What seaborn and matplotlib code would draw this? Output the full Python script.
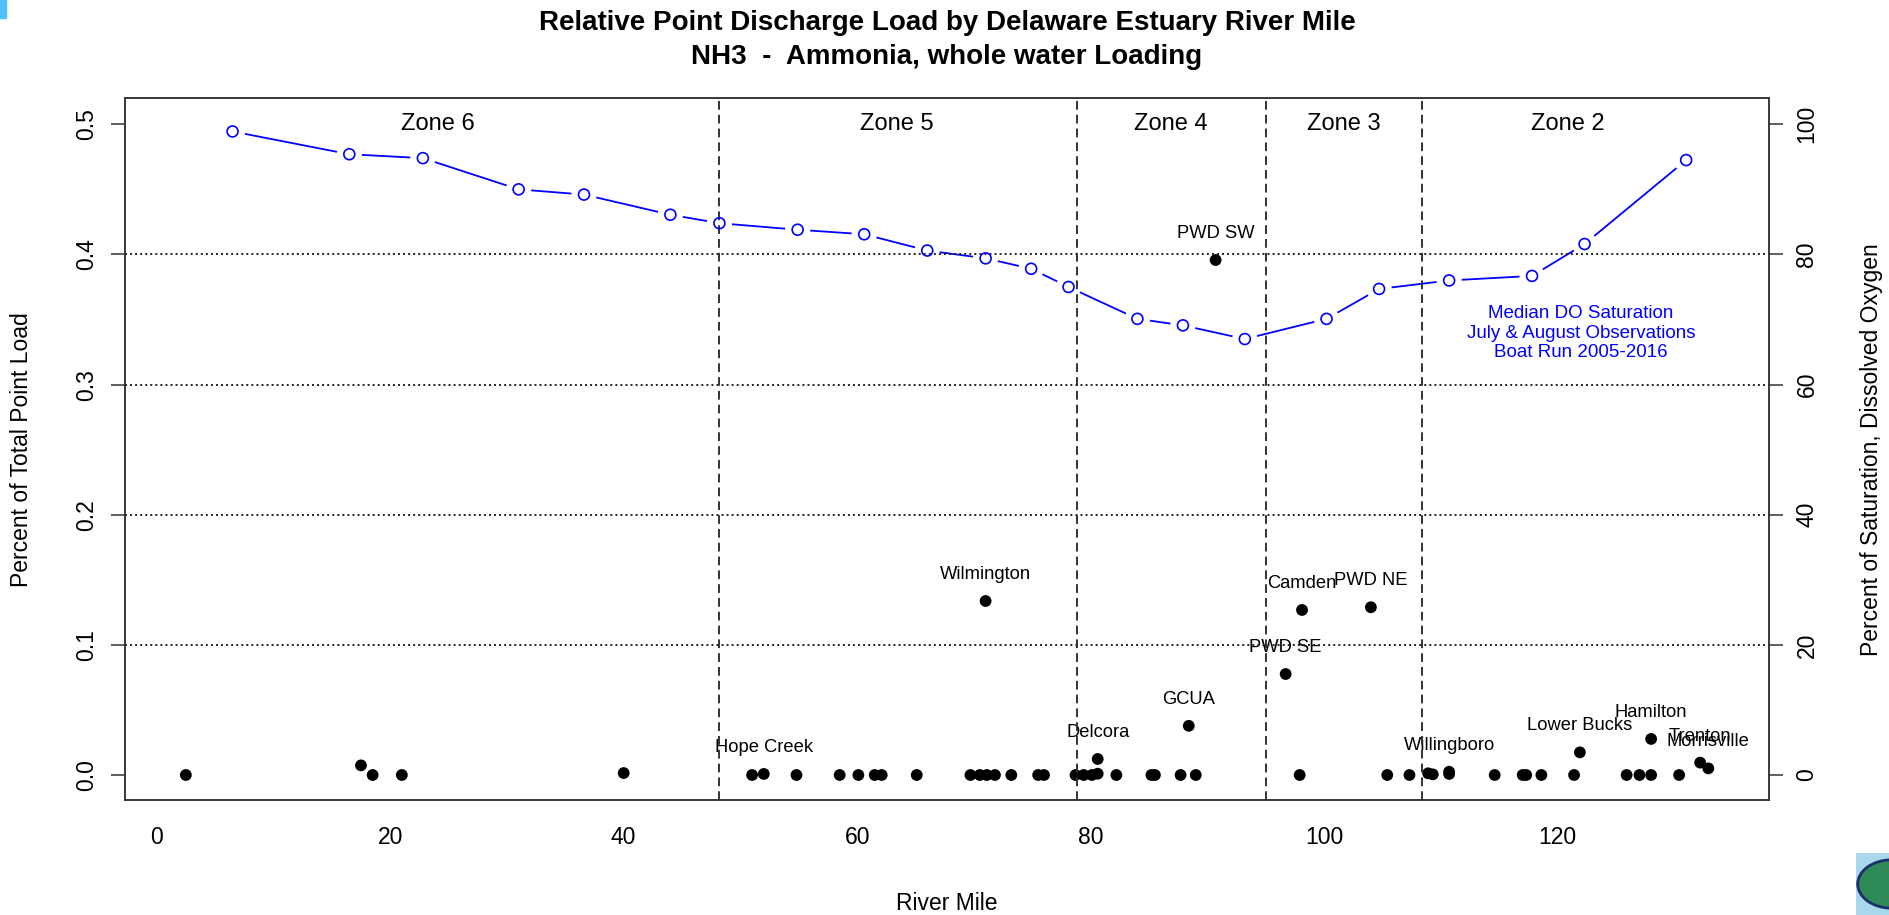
import numpy as np
import pandas as pd
import seaborn as sns
import matplotlib.pyplot as plt
from matplotlib.patches import Rectangle, Ellipse

# labelled point discharges: river mile and percent of total point load
site_names = ["Hope Creek", "Wilmington", "Delcora", "GCUA", "PWD SW", "PWD SE",
              "Camden", "PWD NE", "Willingboro", "Lower Bucks", "Hamilton",
              "Trenton", "Morrisville"]
site_mile = [52.0, 71.0, 80.6, 88.4, 90.7, 96.7, 98.1, 104.0, 110.7, 121.9, 128.0, 132.2, 132.9]
site_load = [0.0008, 0.1337, 0.0123, 0.0378, 0.3957, 0.0776, 0.1268, 0.1289,
             0.0025, 0.0174, 0.0277, 0.0095, 0.0051]

# the rest of the discharges (no label)
other_mile = [2.5, 17.5, 18.5, 21.0, 40.0, 51.0, 54.8, 58.5, 60.1, 61.5, 62.1, 65.1,
              69.7, 70.5, 71.1, 71.8, 73.2, 75.5, 76.0, 78.7, 79.4, 80.1, 80.6, 82.2,
              85.2, 85.5, 87.7, 89.0, 97.9, 105.4, 107.3, 108.9, 109.3, 110.7, 114.6,
              117.0, 117.3, 118.6, 121.4, 125.9, 127.0, 128.0, 130.4]
other_load = [0.0, 0.0074, 0.0, 0.0, 0.0015, 0.0, 0.0, 0.0, 0.0, 0.0, 0.0, 0.0,
              0.0, 0.0, 0.0, 0.0, 0.0, 0.0, 0.0, 0.0, 0.0, 0.0, 0.001, 0.0,
              0.0, 0.0, 0.0, 0.0, 0.0, 0.0, 0.0, 0.0013, 0.0005, 0.0008, 0.0,
              0.0, 0.0, 0.0, 0.0, 0.0, 0.0, 0.0, 0.0]

# median DO saturation, boat run
do_mile = [6.5, 16.5, 22.8, 31.0, 36.6, 44.0, 48.2, 54.9, 60.6, 66.0, 71.0, 74.9,
           78.1, 84.0, 87.9, 93.2, 100.2, 104.7, 110.7, 117.8, 122.3, 131.0]
do_sat = [98.9, 95.4, 94.8, 90.0, 89.2, 86.1, 84.8, 83.8, 83.1, 80.6, 79.4, 77.8,
          75.0, 70.1, 69.1, 67.0, 70.1, 74.7, 76.0, 76.7, 81.6, 94.5]

zone_breaks = [48.2, 78.8, 95.0, 108.4]
zone_names = ["Zone 6", "Zone 5", "Zone 4", "Zone 3", "Zone 2"]
zone_mid = [24.1, 63.4, 86.9, 101.7, 120.9]

x_ticks = [0, 20, 40, 60, 80, 100, 120]
load_ticks = [0.0, 0.1, 0.2, 0.3, 0.4, 0.5]
load_grid = [0.1, 0.2, 0.3, 0.4]
do_ticks = [0, 20, 40, 60, 80, 100]

sites = pd.DataFrame({"mile": site_mile, "load": site_load, "name": site_names})
others = pd.DataFrame({"mile": other_mile, "load": other_load})
do = pd.DataFrame({"mile": do_mile, "sat": do_sat})

sns.set_style("white")
plt.rcParams['font.family'] = ['Liberation Sans', 'DejaVu Sans']
for k in ("text.color", "axes.labelcolor", "xtick.color", "ytick.color"):
    plt.rcParams[k] = "black"

fig = plt.figure(figsize=(18.9, 9.15), dpi=100)
ax = fig.add_axes([0.0659, 0.1257, 0.8701, 0.7669])
ax2 = ax.twinx()

ax.set_xlim(-2.75, 138.1)
ax.set_ylim(-0.0192, 0.52)
ax2.set_ylim(-0.0192 * 200, 0.52 * 200)

sns.scatterplot(data=others, x="mile", y="load", ax=ax, color="black", s=72,
                edgecolor="none", zorder=3)
sns.scatterplot(data=sites, x="mile", y="load", ax=ax, color="black", s=72,
                edgecolor="none", zorder=3)
for _, r in sites.iterrows():
    ax.annotate(r["name"], (r["mile"], r["load"]), xytext=(0, 19), textcoords="offset points",
                ha="center", va="center", fontsize=13.2, color="black")

# DO line drawn like R type="b": gaps round the circles
sns.lineplot(data=do, x="mile", y="sat", ax=ax2, color="blue", lw=1.3, zorder=1)
sns.scatterplot(data=do, x="mile", y="sat", ax=ax2, color="white", s=330,
                edgecolor="none", zorder=1.5)
for g in load_grid:
    ax2.axhline(g * 200, color="#222222", lw=1.4, dashes=(1, 1.6), zorder=2)
for b in zone_breaks:
    ax2.axvline(b, color="#333333", lw=1.4, dashes=(4.5, 2.6), zorder=2)
sns.scatterplot(data=do, x="mile", y="sat", ax=ax2, facecolor="none", edgecolor="blue",
                s=62, linewidth=1.2, zorder=3)

for name, xm in zip(zone_names, zone_mid):
    ax2.text(xm, 100, name, ha="center", va="center", fontsize=17)
ax2.text(122.0, 67.9, "Median DO Saturation\nJuly & August Observations\nBoat Run 2005-2016",
         ha="center", va="center", color="blue", fontsize=13.5, linespacing=1.2)

ax.set_xticks(x_ticks)
ax.set_xticklabels([str(t) for t in x_ticks])
ax.set_yticks(load_ticks)
ax.set_yticklabels([f"{t:.1f}" for t in load_ticks], rotation=90, va="center")
ax2.set_yticks(do_ticks)
ax2.set_yticklabels([str(t) for t in do_ticks], rotation=90, va="center")
ax.tick_params(axis="both", length=10, width=1.1, labelsize=16.5, pad=9, color="#333333")
ax2.tick_params(axis="y", length=10, width=1.1, labelsize=16.5, pad=9, color="#333333")

ax.set_xlabel("River Mile", fontsize=16.5, va="center")
ax.xaxis.set_label_coords(0.5, -0.147)
ax.set_ylabel("Percent of Total Point Load", fontsize=16.5, va="center")
ax.yaxis.set_label_coords(-0.0624, 0.5)
ax2.set_ylabel("Percent of Saturation, Dissolved Oxygen", fontsize=16.5, va="center", rotation=90)
ax2.yaxis.set_label_coords(1.0626, 0.5)

for a in (ax, ax2):
    for s in a.spines.values():
        s.set_color("#333333")
        s.set_linewidth(1.1)

fig.text(0.501, 0.975, "Relative Point Discharge Load by Delaware Estuary River Mile",
         ha="center", va="center", fontsize=20, fontweight="bold")
fig.text(0.501, 0.938, "NH3  -  Ammonia, whole water Loading",
         ha="center", va="center", fontsize=20, fontweight="bold")

# bits of the page around the plot
fig.add_artist(Rectangle((0, 1 - 18 / 915), 6 / 1890, 18 / 915, transform=fig.transFigure,
                         color="#4fc3f7"))
logo = fig.add_axes([1856 / 1890, 0, 34 / 1890, 62 / 915])
logo.set_xlim(0, 1)
logo.set_ylim(0, 1)
logo.axis("off")
logo.add_patch(Rectangle((0, 0), 1, 1, color="#a9d8ec"))
logo.add_patch(Ellipse((1.05, 0.5), 2.0, 0.78, facecolor="#2e8b57", edgecolor="#1b2f6b", lw=2))

fig.savefig("out.png", dpi=100)
